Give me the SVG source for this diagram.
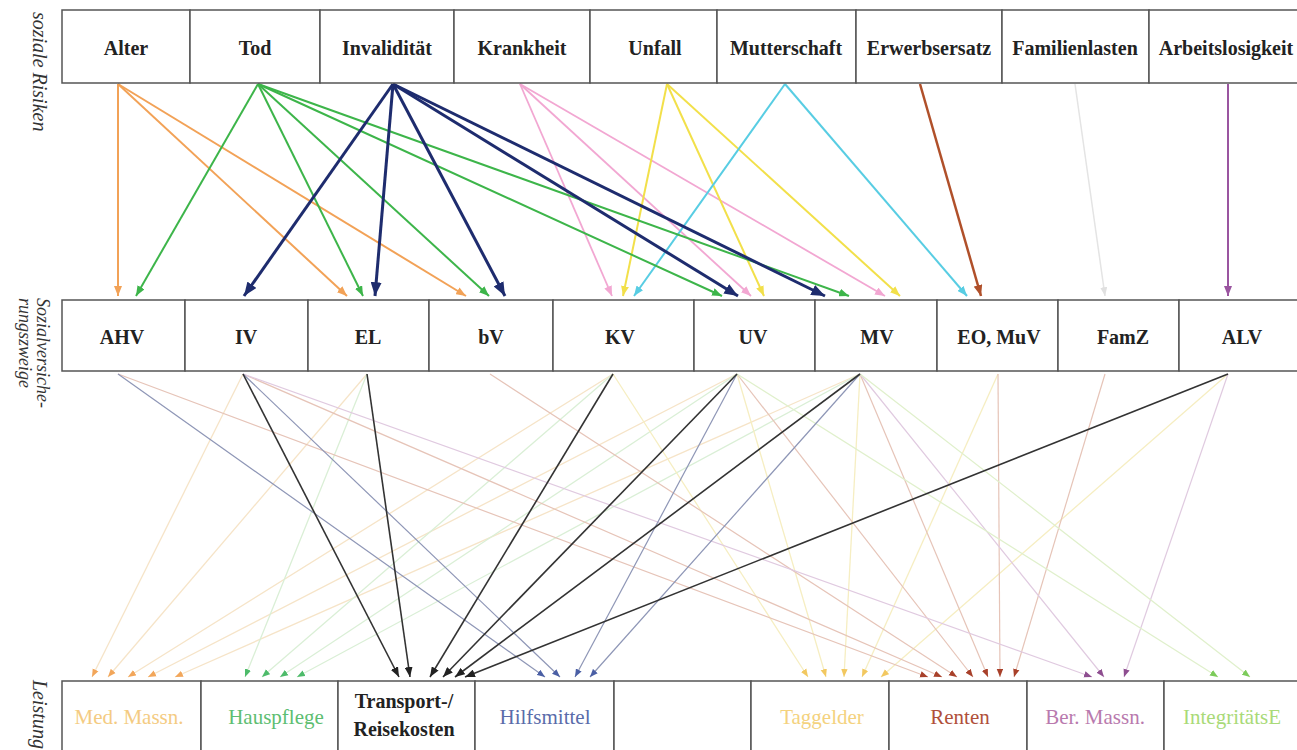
<svg xmlns="http://www.w3.org/2000/svg" width="1297" height="750" viewBox="0 0 1297 750">
<style>
.box{fill:#fff;stroke:#555;stroke-width:1.5}
.lbl{font-family:"Liberation Serif","Times New Roman",serif;font-weight:bold;font-size:20px;fill:#222;text-anchor:middle}
.blbl{font-family:"Liberation Serif","Times New Roman",serif;font-weight:normal;font-size:21px;text-anchor:middle}
.side{font-family:"Liberation Serif","Times New Roman",serif;font-style:italic;fill:#333}
.c{fill:none}
.or{stroke:#F2A257;stroke-width:2}
.gr{stroke:#3DB54A;stroke-width:2}
.nv{stroke:#1E2C6E;stroke-width:3}
.pk{stroke:#F2A7D2;stroke-width:1.8}
.ye{stroke:#F2E04A;stroke-width:2}
.cy{stroke:#58CDE3;stroke-width:2}
.br{stroke:#B0502A;stroke-width:2.5}
.gy{stroke:#e4e4e4;stroke-width:1.5}
.pu{stroke:#9A55A0;stroke-width:2}
.bk{stroke:#333;stroke-width:1.6}
.med{stroke:#F6E4C8;stroke-width:1.3}
.hp{stroke:#DAEFD6;stroke-width:1.3}
.hm{stroke:#8E96B6;stroke-width:1.2}
.tg{stroke:#F6EEC2;stroke-width:1.3}
.rt{stroke:#E6C4B8;stroke-width:1.2}
.bm{stroke:#E0CAE0;stroke-width:1.2}
.ig{stroke:#E0F0CC;stroke-width:1.3}
</style>
<defs>
<marker id="m-or" viewBox="0 0 10 8" refX="10" refY="4" markerWidth="10" markerHeight="8" markerUnits="userSpaceOnUse" orient="auto"><path d="M0,0 L10,4 L0,8 z" fill="#F2A257"/></marker>
<marker id="m-gr" viewBox="0 0 10 8" refX="10" refY="4" markerWidth="10" markerHeight="8" markerUnits="userSpaceOnUse" orient="auto"><path d="M0,0 L10,4 L0,8 z" fill="#3DB54A"/></marker>
<marker id="m-nv" viewBox="0 0 10 8" refX="10" refY="4" markerWidth="14" markerHeight="11" markerUnits="userSpaceOnUse" orient="auto"><path d="M0,0 L10,4 L0,8 z" fill="#1E2C6E"/></marker>
<marker id="m-pk" viewBox="0 0 10 8" refX="10" refY="4" markerWidth="10" markerHeight="8" markerUnits="userSpaceOnUse" orient="auto"><path d="M0,0 L10,4 L0,8 z" fill="#F2A7D2"/></marker>
<marker id="m-ye" viewBox="0 0 10 8" refX="10" refY="4" markerWidth="10" markerHeight="8" markerUnits="userSpaceOnUse" orient="auto"><path d="M0,0 L10,4 L0,8 z" fill="#F2E04A"/></marker>
<marker id="m-cy" viewBox="0 0 10 8" refX="10" refY="4" markerWidth="10" markerHeight="8" markerUnits="userSpaceOnUse" orient="auto"><path d="M0,0 L10,4 L0,8 z" fill="#58CDE3"/></marker>
<marker id="m-br" viewBox="0 0 10 8" refX="10" refY="4" markerWidth="11" markerHeight="9" markerUnits="userSpaceOnUse" orient="auto"><path d="M0,0 L10,4 L0,8 z" fill="#B0502A"/></marker>
<marker id="m-gy" viewBox="0 0 10 8" refX="10" refY="4" markerWidth="9" markerHeight="7" markerUnits="userSpaceOnUse" orient="auto"><path d="M0,0 L10,4 L0,8 z" fill="#e0e0e0"/></marker>
<marker id="m-pu" viewBox="0 0 10 8" refX="10" refY="4" markerWidth="10" markerHeight="8" markerUnits="userSpaceOnUse" orient="auto"><path d="M0,0 L10,4 L0,8 z" fill="#9A55A0"/></marker>
<marker id="m-bk" viewBox="0 0 10 8" refX="10" refY="4" markerWidth="10" markerHeight="8" markerUnits="userSpaceOnUse" orient="auto"><path d="M0,0 L10,4 L0,8 z" fill="#222"/></marker>
<marker id="m-med" viewBox="0 0 10 8" refX="10" refY="4" markerWidth="8" markerHeight="7" markerUnits="userSpaceOnUse" orient="auto"><path d="M0,0 L10,4 L0,8 z" fill="#F2A65A"/></marker>
<marker id="m-hp" viewBox="0 0 10 8" refX="10" refY="4" markerWidth="8" markerHeight="7" markerUnits="userSpaceOnUse" orient="auto"><path d="M0,0 L10,4 L0,8 z" fill="#4DBB6A"/></marker>
<marker id="m-hm" viewBox="0 0 10 8" refX="10" refY="4" markerWidth="8" markerHeight="7" markerUnits="userSpaceOnUse" orient="auto"><path d="M0,0 L10,4 L0,8 z" fill="#4A5FA5"/></marker>
<marker id="m-tg" viewBox="0 0 10 8" refX="10" refY="4" markerWidth="8" markerHeight="7" markerUnits="userSpaceOnUse" orient="auto"><path d="M0,0 L10,4 L0,8 z" fill="#F2C860"/></marker>
<marker id="m-rt" viewBox="0 0 10 8" refX="10" refY="4" markerWidth="8" markerHeight="7" markerUnits="userSpaceOnUse" orient="auto"><path d="M0,0 L10,4 L0,8 z" fill="#A8402A"/></marker>
<marker id="m-bm" viewBox="0 0 10 8" refX="10" refY="4" markerWidth="8" markerHeight="7" markerUnits="userSpaceOnUse" orient="auto"><path d="M0,0 L10,4 L0,8 z" fill="#8E4E90"/></marker>
<marker id="m-ig" viewBox="0 0 10 8" refX="10" refY="4" markerWidth="8" markerHeight="7" markerUnits="userSpaceOnUse" orient="auto"><path d="M0,0 L10,4 L0,8 z" fill="#7CCB5A"/></marker>
</defs>
<rect width="1297" height="750" fill="#fff"/>

<g id="connectors">
  <g class="c med" marker-end="url(#m-med)">
    <line x1="243" y1="374" x2="92" y2="677"/>
    <line x1="367" y1="374" x2="108" y2="677"/>
    <line x1="613" y1="374" x2="128" y2="677"/>
    <line x1="737" y1="374" x2="148" y2="677"/>
    <line x1="860" y1="374" x2="175" y2="677"/>
  </g>
  <g class="c hp" marker-end="url(#m-hp)">
    <line x1="367" y1="374" x2="245" y2="677"/>
    <line x1="613" y1="374" x2="262" y2="677"/>
    <line x1="737" y1="374" x2="280" y2="677"/>
    <line x1="860" y1="374" x2="297" y2="677"/>
  </g>
  <g class="c tg" marker-end="url(#m-tg)">
    <line x1="613" y1="374" x2="808" y2="677"/>
    <line x1="737" y1="374" x2="826" y2="677"/>
    <line x1="860" y1="374" x2="844" y2="677"/>
    <line x1="998" y1="374" x2="862" y2="677"/>
    <line x1="1228" y1="374" x2="881" y2="677"/>
  </g>
  <g class="c rt" marker-end="url(#m-rt)">
    <line x1="118" y1="374" x2="928" y2="677"/>
    <line x1="243" y1="374" x2="942" y2="677"/>
    <line x1="490" y1="374" x2="957" y2="677"/>
    <line x1="737" y1="374" x2="973" y2="677"/>
    <line x1="860" y1="374" x2="988" y2="677"/>
    <line x1="998" y1="374" x2="1000" y2="677"/>
    <line x1="1105" y1="374" x2="1014" y2="677"/>
  </g>
  <g class="c bm" marker-end="url(#m-bm)">
    <line x1="243" y1="374" x2="1092" y2="677"/>
    <line x1="860" y1="374" x2="1104" y2="677"/>
    <line x1="1228" y1="374" x2="1124" y2="677"/>
  </g>
  <g class="c ig" marker-end="url(#m-ig)">
    <line x1="737" y1="374" x2="1218" y2="677"/>
    <line x1="860" y1="374" x2="1250" y2="677"/>
  </g>
  <g class="c hm" marker-end="url(#m-hm)">
    <line x1="118" y1="374" x2="545" y2="677"/>
    <line x1="243" y1="374" x2="560" y2="677"/>
    <line x1="737" y1="374" x2="575" y2="677"/>
    <line x1="860" y1="374" x2="590" y2="677"/>
  </g>
  <g class="c bk" marker-end="url(#m-bk)">
    <line x1="243" y1="374" x2="399" y2="677"/>
    <line x1="367" y1="374" x2="410" y2="677"/>
    <line x1="613" y1="374" x2="430" y2="677"/>
    <line x1="737" y1="374" x2="443" y2="677"/>
    <line x1="860" y1="374" x2="455" y2="677"/>
    <line x1="1228" y1="374" x2="465" y2="677"/>
  </g>
  <g class="c gy" marker-end="url(#m-gy)">
    <line x1="1075" y1="84" x2="1105" y2="296"/>
  </g>
  <g class="c pk" marker-end="url(#m-pk)">
    <line x1="520" y1="84" x2="612" y2="296"/>
    <line x1="520" y1="84" x2="751" y2="296"/>
    <line x1="520" y1="84" x2="885" y2="296"/>
  </g>
  <g class="c ye" marker-end="url(#m-ye)">
    <line x1="667" y1="84" x2="623" y2="296"/>
    <line x1="667" y1="84" x2="764" y2="296"/>
    <line x1="667" y1="84" x2="900" y2="296"/>
  </g>
  <g class="c cy" marker-end="url(#m-cy)">
    <line x1="785" y1="84" x2="634" y2="296"/>
    <line x1="785" y1="84" x2="967" y2="296"/>
  </g>
  <g class="c or" marker-end="url(#m-or)">
    <line x1="118" y1="84" x2="118" y2="296"/>
    <line x1="118" y1="84" x2="347" y2="296"/>
    <line x1="118" y1="84" x2="466" y2="296"/>
  </g>
  <g class="c gr" marker-end="url(#m-gr)">
    <line x1="258" y1="84" x2="136" y2="296"/>
    <line x1="258" y1="84" x2="363" y2="296"/>
    <line x1="258" y1="84" x2="489" y2="296"/>
    <line x1="258" y1="84" x2="722" y2="296"/>
    <line x1="258" y1="84" x2="849" y2="296"/>
  </g>
  <g class="c nv" marker-end="url(#m-nv)">
    <line x1="393" y1="84" x2="244" y2="296"/>
    <line x1="393" y1="84" x2="375" y2="296"/>
    <line x1="393" y1="84" x2="505" y2="296"/>
    <line x1="393" y1="84" x2="738" y2="296"/>
    <line x1="393" y1="84" x2="825" y2="296"/>
  </g>
  <g class="c br" marker-end="url(#m-br)">
    <line x1="920" y1="84" x2="981" y2="296"/>
  </g>
  <g class="c pu" marker-end="url(#m-pu)">
    <line x1="1228" y1="84" x2="1228" y2="296"/>
  </g>
</g>

<g id="side-labels">
  <text class="side" font-size="20" transform="translate(33,12) rotate(90)">soziale Risiken</text>
  <text class="side" font-size="18" transform="translate(37,298) rotate(90)">Sozialversiche-</text>
  <text class="side" font-size="18" transform="translate(19,298) rotate(90)">rungszweige</text>
  <text class="side" font-size="20" transform="translate(33,680) rotate(90)">Leistung</text>
</g>

<g id="risk-alter"><rect class="box" x="62" y="10" width="128" height="73"/><text class="lbl" x="126" y="55">Alter</text></g>
<g id="risk-tod"><rect class="box" x="190" y="10" width="130" height="73"/><text class="lbl" x="255" y="55">Tod</text></g>
<g id="risk-invaliditaet"><rect class="box" x="320" y="10" width="134" height="73"/><text class="lbl" x="387" y="55">Invalidität</text></g>
<g id="risk-krankheit"><rect class="box" x="454" y="10" width="136" height="73"/><text class="lbl" x="522" y="55">Krankheit</text></g>
<g id="risk-unfall"><rect class="box" x="590" y="10" width="127" height="73"/><text class="lbl" x="655" y="55">Unfall</text></g>
<g id="risk-mutterschaft"><rect class="box" x="717" y="10" width="139" height="73"/><text class="lbl" x="786" y="55">Mutterschaft</text></g>
<g id="risk-erwerbsersatz"><rect class="box" x="856" y="10" width="146" height="73"/><text class="lbl" x="929" y="55">Erwerbsersatz</text></g>
<g id="risk-familienlasten"><rect class="box" x="1002" y="10" width="147" height="73"/><text class="lbl" x="1075" y="55">Familienlasten</text></g>
<g id="risk-arbeitslosigkeit"><rect class="box" x="1149" y="10" width="150" height="73"/><text class="lbl" x="1226" y="55">Arbeitslosigkeit</text></g>

<g id="sv-ahv"><rect class="box" x="62" y="300" width="123" height="71"/><text class="lbl" x="122" y="344">AHV</text></g>
<g id="sv-iv"><rect class="box" x="185" y="300" width="123" height="71"/><text class="lbl" x="246" y="344">IV</text></g>
<g id="sv-el"><rect class="box" x="308" y="300" width="121" height="71"/><text class="lbl" x="368" y="344">EL</text></g>
<g id="sv-bv"><rect class="box" x="429" y="300" width="124" height="71"/><text class="lbl" x="491" y="344">bV</text></g>
<g id="sv-kv"><rect class="box" x="553" y="300" width="141" height="71"/><text class="lbl" x="620" y="344">KV</text></g>
<g id="sv-uv"><rect class="box" x="694" y="300" width="121" height="71"/><text class="lbl" x="753" y="344">UV</text></g>
<g id="sv-mv"><rect class="box" x="815" y="300" width="122" height="71"/><text class="lbl" x="877" y="344">MV</text></g>
<g id="sv-eo"><rect class="box" x="937" y="300" width="121" height="71"/><text class="lbl" x="999" y="344">EO, MuV</text></g>
<g id="sv-famz"><rect class="box" x="1058" y="300" width="121" height="71"/><text class="lbl" x="1123" y="344">FamZ</text></g>
<g id="sv-alv"><rect class="box" x="1179" y="300" width="120" height="71"/><text class="lbl" x="1242" y="344">ALV</text></g>

<g id="l-med"><rect class="box" x="62" y="681" width="139" height="80"/><text class="blbl" font-family="Liberation Serif, serif" x="129" y="724" fill="#F4CB82">Med. Massn.</text></g>
<g id="l-hauspflege"><rect class="box" x="201" y="681" width="137" height="80"/><text class="blbl" font-family="Liberation Serif, serif" x="276" y="724" fill="#5DBE72">Hauspflege</text></g>
<g id="l-transport"><rect class="box" x="338" y="681" width="137" height="80"/><text class="lbl" font-size="22" x="404" y="708">Transport-/</text><text class="lbl" font-size="22" x="404" y="736">Reisekosten</text></g>
<g id="l-hilfsmittel"><rect class="box" x="475" y="681" width="139" height="80"/><text class="blbl" font-family="Liberation Serif, serif" x="545" y="724" fill="#5A6CAA">Hilfsmittel</text></g>
<g id="l-leer"><rect class="box" x="614" y="681" width="137" height="80"/></g>
<g id="l-taggelder"><rect class="box" x="751" y="681" width="138" height="80"/><text class="blbl" font-family="Liberation Serif, serif" x="822" y="724" fill="#F4D27E">Taggelder</text></g>
<g id="l-renten"><rect class="box" x="889" y="681" width="138" height="80"/><text class="blbl" font-family="Liberation Serif, serif" x="960" y="724" fill="#B0503A">Renten</text></g>
<g id="l-ber"><rect class="box" x="1027" y="681" width="137" height="80"/><text class="blbl" font-family="Liberation Serif, serif" x="1095" y="724" fill="#B97AAE">Ber. Massn.</text></g>
<g id="l-integ"><rect class="box" x="1164" y="681" width="135" height="80"/><text class="blbl" font-family="Liberation Serif, serif" x="1232" y="724" fill="#A9DA78">IntegritätsE</text></g>
</svg>
